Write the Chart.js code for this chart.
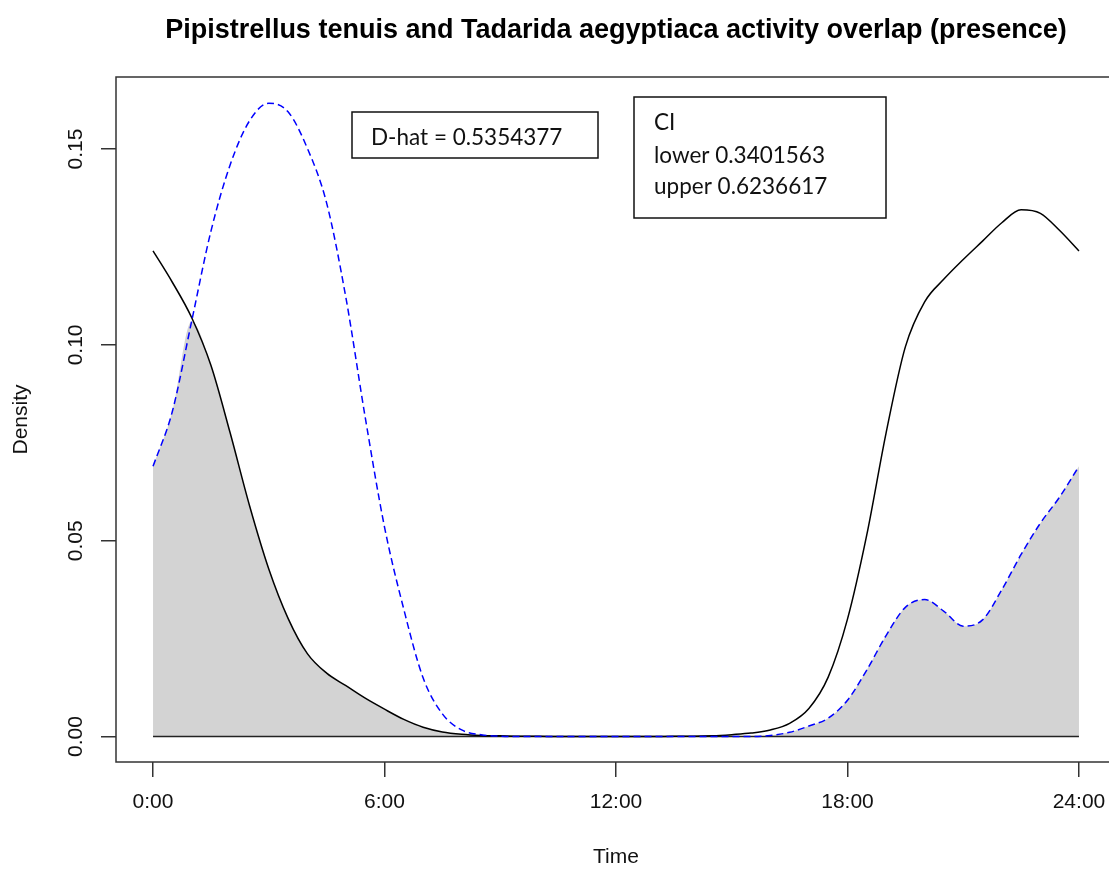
<!DOCTYPE html>
<html>
<head>
<meta charset="utf-8">
<script src="https://cdn.jsdelivr.net/npm/chart.js@4/dist/chart.umd.min.js"></script>
<style>
  html, body { margin: 0; padding: 0; background: #ffffff; overflow: hidden; }
  #wrap { position: relative; width: 1160px; height: 873px; }
</style>
</head>
<body>
<div id="wrap"><canvas id="c" width="1160" height="873"></canvas></div>
<script>
// Time of day (hours) at which the kernel densities are evaluated
const hours = [
  0, 0.5, 1, 1.5, 2, 2.5, 3, 3.5, 4, 4.5, 5, 5.5, 6, 6.5, 7, 7.5, 8, 8.5,
  9, 9.5, 10, 10.5, 11, 11.5, 12, 12.5, 13, 13.5, 14, 14.5, 15, 15.5, 16, 16.5,
  17, 17.5, 18, 18.5, 19, 19.5, 20, 20.5, 21, 21.5, 22, 22.5, 23, 23.5, 24
];

// Pipistrellus tenuis activity density (solid black)
const tenuis = [
  0.1240, 0.1160, 0.1070, 0.0948, 0.0775, 0.0590, 0.0428, 0.0302, 0.0212, 0.0162,
  0.0130, 0.0098, 0.0070, 0.0044, 0.0024, 0.0012, 0.0006, 0.0003,
  0.0002, 0.0001, 0.0001, 0.0000, 0.0000, 0.0000, 0.0000, 0.0000, 0.0000, 0.0001,
  0.0001, 0.0002, 0.0005, 0.0009, 0.0017, 0.0034,
  0.0072, 0.0152, 0.0300, 0.0515, 0.0775, 0.0995, 0.1110, 0.1168, 0.1218, 0.1265,
  0.1312, 0.1345, 0.1336, 0.1292, 0.1240
];

// Tadarida aegyptiaca activity density (dashed blue)
const aegyptiaca = [
  0.0690, 0.0830, 0.1060, 0.1290, 0.1460, 0.1572, 0.1617, 0.1595, 0.1502, 0.1362,
  0.1120, 0.0815, 0.0535, 0.0325, 0.0150, 0.0058, 0.0017, 0.0005,
  0.0001, 0.0000, 0.0000, 0.0000, 0.0000, 0.0000, 0.0000, 0.0000, 0.0000, 0.0000,
  0.0000, 0.0000, 0.0000, 0.0000, 0.0003, 0.0011,
  0.0027, 0.0047, 0.0093, 0.0170, 0.0258, 0.0330, 0.0350, 0.0320, 0.0282, 0.0298,
  0.0375, 0.0465, 0.0545, 0.0612, 0.0690
];

// Axis ticks
const xTickHours = [0, 6, 12, 18, 24];
const yTickValues = [0, 0.05, 0.10, 0.15];

// Overlap statistics
const dHat = '0.5354377';
const ciLower = '0.3401563';
const ciUpper = '0.6236617';

const axisFont = { family: "'Liberation Sans', Arial, sans-serif", size: 21 };
const noteFont = "22.5px Lato, 'Liberation Sans', sans-serif";

const toPoints = (ys) => hours.map((h, i) => ({ x: h, y: ys[i] }));
const overlap = hours.map((h, i) => ({ x: h, y: Math.min(tenuis[i], aegyptiaca[i]) }));

// Frame around the plotting region
const framePlugin = {
  id: 'frame',
  afterDatasetsDraw(chart) {
    const { ctx, chartArea: a } = chart;
    ctx.save();
    ctx.strokeStyle = '#333333';
    ctx.lineWidth = 1.5;
    ctx.strokeRect(a.left, a.top, a.right - a.left, a.bottom - a.top);
    ctx.restore();
  }
};

// Boxed notes with the overlap estimate and its confidence interval
const notesPlugin = {
  id: 'notes',
  afterDraw(chart) {
    const ctx = chart.ctx;
    ctx.save();
    ctx.strokeStyle = '#111111';
    ctx.lineWidth = 1.5;
    ctx.fillStyle = '#111111';
    ctx.font = noteFont;
    ctx.textAlign = 'left';
    ctx.textBaseline = 'alphabetic';

    ctx.strokeRect(352, 112, 246, 46);
    ctx.fillText('D-hat = ' + dHat, 371, 145);

    ctx.strokeRect(634, 97, 252, 121);
    ctx.fillText('CI', 654, 130);
    ctx.fillText('lower ' + ciLower, 654, 163);
    ctx.fillText('upper ' + ciUpper, 654, 194);
    ctx.restore();
  }
};

new Chart(document.getElementById('c'), {
  type: 'line',
  data: {
    datasets: [
      {
        label: 'overlap',
        data: overlap,
        borderWidth: 0,
        borderColor: 'rgba(0,0,0,0)',
        backgroundColor: '#d3d3d3',
        fill: 'origin',
        pointRadius: 0,
        cubicInterpolationMode: 'monotone',
        order: 4
      },
      {
        label: 'baseline',
        data: [{ x: 0, y: 0 }, { x: 24, y: 0 }],
        borderColor: '#222222',
        borderWidth: 1.5,
        pointRadius: 0,
        fill: false,
        order: 3
      },
      {
        label: 'Pipistrellus tenuis',
        data: toPoints(tenuis),
        borderColor: '#000000',
        borderWidth: 1.5,
        pointRadius: 0,
        fill: false,
        cubicInterpolationMode: 'monotone',
        order: 2
      },
      {
        label: 'Tadarida aegyptiaca',
        data: toPoints(aegyptiaca),
        borderColor: '#0000ff',
        borderWidth: 1.5,
        borderDash: [7, 4],
        pointRadius: 0,
        fill: false,
        cubicInterpolationMode: 'monotone',
        order: 1
      }
    ]
  },
  options: {
    responsive: false,
    animation: false,
    devicePixelRatio: 1,
    layout: { padding: { left: 0, right: 44, top: 0, bottom: 0 } },
    plugins: {
      legend: { display: false },
      tooltip: { enabled: false },
      title: {
        display: true,
        fullSize: false,
        text: 'Pipistrellus tenuis and Tadarida aegyptiaca activity overlap (presence)',
        color: '#000000',
        font: { family: "'Liberation Sans', Arial, sans-serif", size: 27, weight: 'bold' },
        padding: { top: 14, bottom: 30.6 }
      }
    },
    scales: {
      x: {
        type: 'linear',
        min: -0.96,
        max: 24.96,
        afterBuildTicks: (s) => { s.ticks = xTickHours.map(v => ({ value: v })); },
        afterFit: (s) => { s.height = 111; },
        ticks: {
          callback: (v) => v + ':00',
          font: axisFont,
          color: '#111111',
          padding: 13,
          maxRotation: 0,
          autoSkip: false
        },
        grid: { drawOnChartArea: false, drawTicks: true, tickLength: 15, color: '#333333', lineWidth: 1.5 },
        border: { display: false },
        title: { display: true, text: 'Time', color: '#111111', font: axisFont, padding: { top: 0, bottom: 3 } }
      },
      y: {
        type: 'linear',
        min: -0.00648,
        max: 0.1684,
        afterBuildTicks: (s) => { s.ticks = yTickValues.map(v => ({ value: v })); },
        afterFit: (s) => { s.width = 116; },
        ticks: {
          callback: (v) => Number(v).toFixed(2),
          font: axisFont,
          color: '#111111',
          padding: 4,
          minRotation: 90,
          maxRotation: 90,
          crossAlign: 'center',
          autoSkip: false
        },
        grid: { drawOnChartArea: false, drawTicks: true, tickLength: 15, color: '#333333', lineWidth: 1.5 },
        border: { display: false },
        title: { display: true, text: 'Density', color: '#111111', font: axisFont, padding: { top: 9, bottom: 0 } }
      }
    }
  },
  plugins: [framePlugin, notesPlugin]
});
</script>
</body>
</html>
